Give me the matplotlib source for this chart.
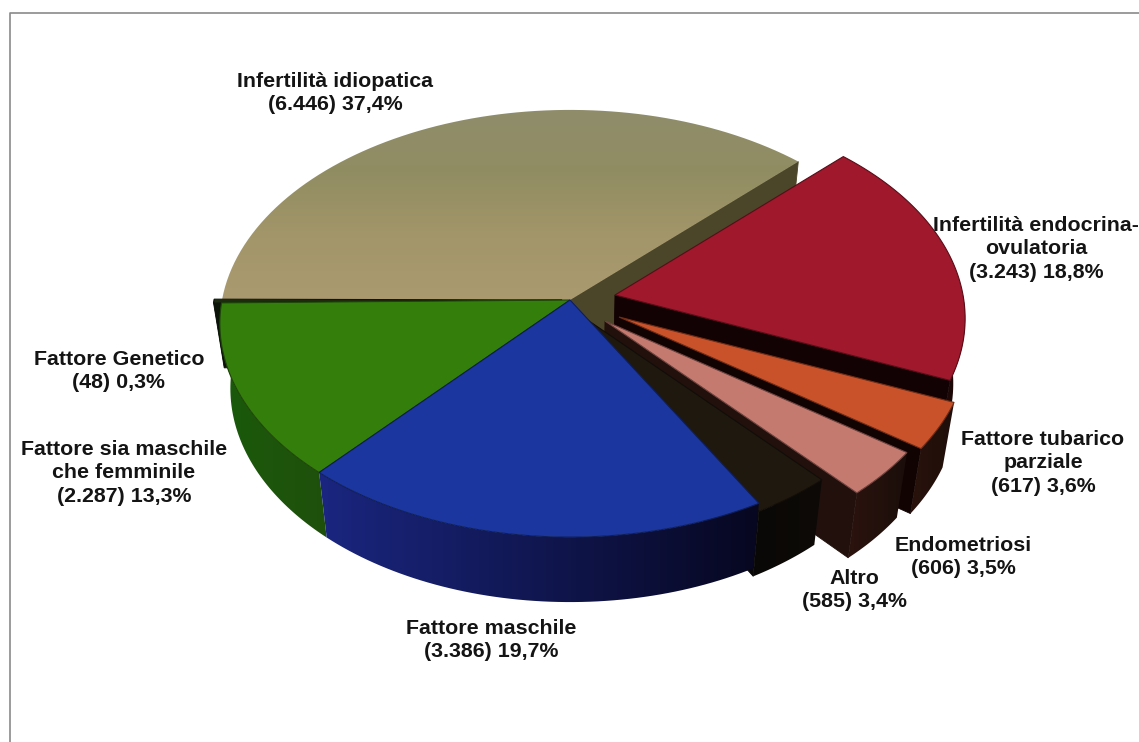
import numpy as np
import matplotlib
matplotlib.use("Agg")
import matplotlib.pyplot as plt
from matplotlib.colors import LinearSegmentedColormap, to_rgb
from matplotlib.patches import Polygon

# Cases per cause of infertility, anticlockwise from the first slice
causes = ["Infertilità idiopatica", "Fattore Genetico", "Fattore sia maschile\nche femminile",
          "Fattore maschile", "Altro", "Endometriosi", "Fattore tubarico\nparziale",
          "Infertilità endocrina-\novulatoria"]
counts = [6446, 48, 2287, 3386, 585, 606, 617, 3243]
count_labels = ["6.446", "48", "2.287", "3.386", "585", "606", "617", "3.243"]
percent_labels = ["37,4%", "0,3%", "13,3%", "19,7%", "3,4%", "3,5%", "3,6%", "18,8%"]

W, H = 1139, 742
CX, CY, RX, RY, PERSP = 570, 300, 348, 211, 0.11
DEPTH, TAPER = 65, 0.97
START = 45

# slice index -> colours and explode offset (pixels)
TOP = {1: "#1c2a10", 2: "#347e0c", 3: "#1b379f", 4: "#1f180e", 5: "#c57a70", 6: "#c9522a", 7: "#a0182c"}
WALL = {1: ("#0c140a", "#0c140a"), 2: ("#1a5a0c", "#1f500b"), 3: ("#1a2680", "#070720"),
        4: ("#0a0806", "#0d0a07"), 5: ("#2c130e", "#1a0e0a"), 6: ("#2a120c", "#1e0e0a"), 7: ("#200808", "#180606")}
CUT = {0: "#4b4629", 1: "#0c140a", 4: "#0a0806", 5: "#21100c", 6: "#120303", 7: "#120203"}
EXPLODE = {0: (0, 0), 1: (-8, 0), 2: (0, 0), 3: (0, 0), 4: (0, 8), 5: (35, 21), 6: (49, 17), 7: (45, -5)}

fracs = np.array(counts) / sum(counts)
edges = START + 360 * np.concatenate([[0], np.cumsum(fracs)])

fig = plt.figure(figsize=(W / 100, H / 100), dpi=100, facecolor="white")
ax = fig.add_axes([0, 0, 1, 1])
ax.set_xlim(0, W)
ax.set_ylim(H, 0)
ax.axis("off")


def rim(theta_deg, off=(0, 0)):
    t = np.radians(theta_deg)
    x, y = np.cos(t), np.sin(t)
    w = 1 + PERSP * y
    return CX + RX * x / w + off[0], CY - RY * y / w + off[1]


def drop(px, py):
    return CX + (px - CX) * TAPER, py + DEPTH


def arc(i, n=80):
    return np.linspace(edges[i], edges[i + 1], n)


def top_poly(i):
    off = EXPLODE[i]
    xs, ys = rim(arc(i), off)
    return np.r_[CX + off[0], xs], np.r_[CY + off[1], ys]


def draw_top(i, z):
    xs, ys = top_poly(i)
    edge = tuple(0.55 * c for c in to_rgb(TOP[i]))
    ax.fill(xs, ys, fc=TOP[i], ec=edge, lw=0.8, zorder=z)


def draw_cut(i, theta, z):
    # flat face left by the cut from the centre out to the rim at angle theta
    off = EXPLODE[i]
    ax0, ay0 = CX + off[0], CY + off[1]
    bx, by = rim(theta, off)
    bx0, by0 = drop(ax0, ay0)
    bx1, by1 = drop(bx, by)
    ax.fill([ax0, bx, bx1, bx0], [ay0, by, by1, by0], color=CUT[i], lw=0.6, zorder=z)


def gradient_fill(xs, ys, data, cmap, extent, z):
    # paints a colour ramp clipped to an outline
    clip = Polygon(np.c_[xs, ys], closed=True, transform=ax.transData, fc="none", ec="none")
    ax.add_patch(clip)
    img = ax.imshow(data, cmap=cmap, extent=extent, aspect="auto", zorder=z, interpolation="bilinear")
    img.set_clip_path(clip)
    ax.set_xlim(0, W)
    ax.set_ylim(H, 0)


def draw_wall(i, z):
    off = EXPLODE[i]
    angles = arc(i, 60)
    # only the part of the rim facing the viewer
    angles = angles[np.sin(np.radians(angles)) <= 0.02]
    if len(angles) < 2:
        return
    xs, ys = rim(angles, off)
    bx, by = drop(xs, ys)
    ox, oy = np.r_[xs, bx[::-1]], np.r_[ys, by[::-1]]
    cmap = LinearSegmentedColormap.from_list(f"wall{i}", WALL[i])
    ramp = np.linspace(0, 1, 256)[None, :]
    gradient_fill(ox, oy, ramp, cmap, (ox.min() - 1, ox.max() + 1, oy.max() + 1, oy.min() - 1), z)


# The largest slice: cut face first, then a vertical gradient on its top
draw_cut(0, edges[0], 1)
xs0, ys0 = top_poly(0)
tan = LinearSegmentedColormap.from_list("tan", ["#8f8c6c", "#918d62", "#a3966a", "#ab9a70"])
gradient_fill(xs0, ys0, np.linspace(0, 1, 256)[:, None], tan, (200, 800, 305, 105), 1.5)

# Everything else sits above the gradient, painted from back to front
z = 2.0
for i in [7, 6, 5, 4]:
    draw_cut(i, edges[i], z)
    draw_wall(i, z + 0.01)
    draw_top(i, z + 0.02)
    z += 0.1

draw_cut(1, edges[2], 3)
draw_wall(1, 3.01)
draw_top(1, 3.02)
draw_wall(2, 3.1)
draw_wall(3, 3.1)
draw_top(2, 3.2)
draw_top(3, 3.2)

# Labels, centred on each slice's block of text
LABEL_POS = [(335, 93), (119, 371), (124, 473), (491, 640), (854, 590), (963, 557), (1043, 463), (1036, 249)]
for name, cnt, pct, (lx, ly) in zip(causes, count_labels, percent_labels, LABEL_POS):
    ax.text(lx, ly, f"{name}\n({cnt}) {pct}", ha="center", va="center", multialignment="center",
            family="Liberation Sans", weight="bold", fontsize=15.4, color="#141414",
            linespacing=1.3, zorder=5)

# Thin frame around the chart
ax.plot([9.5, 9.5, W], [H, 13, 13], color="#8a8a8a", lw=1.2, zorder=0.5)

fig.savefig("out.png", dpi=100, facecolor="white")
